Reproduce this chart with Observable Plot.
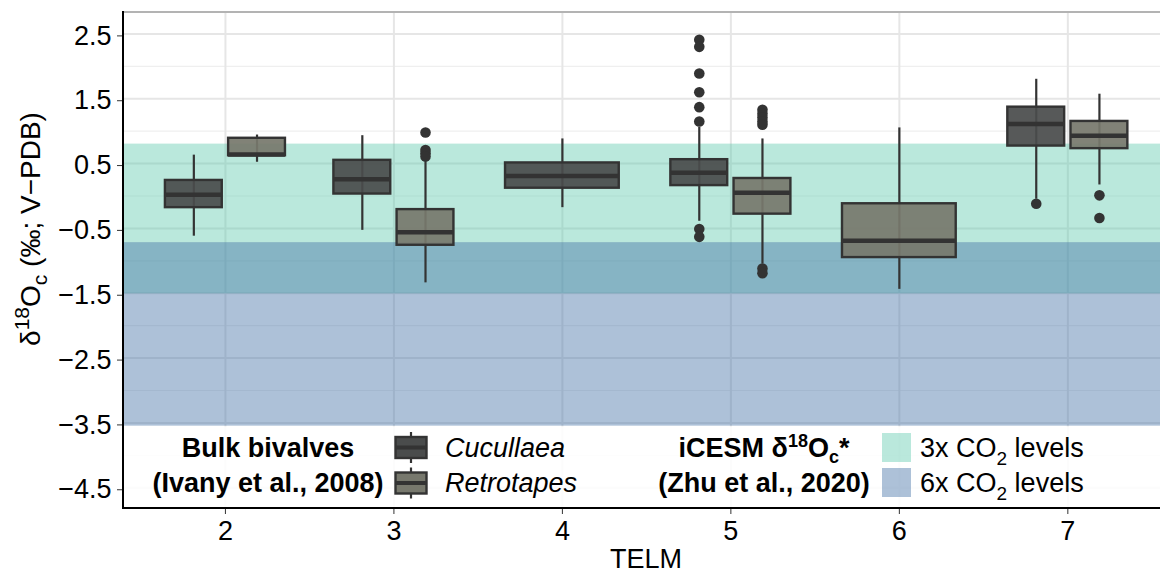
<!DOCTYPE html>
<html><head><meta charset="utf-8">
<script src="https://cdn.jsdelivr.net/npm/d3@7"></script>
<script src="https://cdn.jsdelivr.net/npm/@observablehq/plot@0.6"></script>
<style>
body{margin:0;background:#fff;}
svg{font-family:"Liberation Sans",Arial,sans-serif;}
</style>
</head><body><div id="chart"></div>
<script>
// ---- data ----
const telm        = [2, 2, 3, 3, 4, 5, 5, 6, 7, 7];
const species     = ["Cucullaea","Retrotapes","Cucullaea","Retrotapes","Cucullaea","Cucullaea","Retrotapes","Retrotapes","Cucullaea","Retrotapes"];
const whiskerLow  = [-0.62, 0.52, -0.53, -1.34, -0.18, -0.39, -1.05, -1.44, -0.05, 0.17];
const q1          = [-0.18, 0.62,  0.03, -0.76,  0.12,  0.16, -0.28, -0.95,  0.77, 0.73];
const median      = [ 0.02, 0.64,  0.26, -0.56,  0.31,  0.36,  0.05, -0.69,  1.11, 0.93];
const q3          = [ 0.24, 0.89,  0.55, -0.21,  0.51,  0.56,  0.27, -0.12,  1.37, 1.15];
const whiskerHigh = [ 0.63, 0.94,  0.93,  0.55,  0.88,  1.06,  0.88,  1.05,  1.80, 1.57];

const outlierTelm    = [3,3,3,3, 5,5,5,5,5,5,5,5, 5,5,5,5,5,5,5, 7, 7,7];
const outlierSpecies = ["Retrotapes","Retrotapes","Retrotapes","Retrotapes",
  "Cucullaea","Cucullaea","Cucullaea","Cucullaea","Cucullaea","Cucullaea","Cucullaea","Cucullaea",
  "Retrotapes","Retrotapes","Retrotapes","Retrotapes","Retrotapes","Retrotapes","Retrotapes",
  "Cucullaea","Retrotapes","Retrotapes"];
const outlierValue   = [0.98, 0.71, 0.66, 0.61,
  2.41, 2.30, 1.89, 1.60, 1.37, 1.15, -0.51, -0.63,
  1.33, 1.27, 1.21, 1.15, 1.10, -1.12, -1.19,
  -0.12, 0.01, -0.34];

const bandLabel  = ["3x CO2 levels", "6x CO2 levels"];
const bandTop    = [0.80, -0.72];
const bandBottom = [-1.51, -3.55];

const speciesNames = ["Cucullaea", "Retrotapes"];
const telmTicks  = [2, 3, 4, 5, 6, 7];
const majorTicks = [2.5, 1.5, 0.5, -0.5, -1.5, -2.5, -3.5, -4.5];
const minorTicks = [2.0, 1.0, 0.0, -1.0, -2.0, -3.0, -4.0];

// ---- styles ----
const speciesFill = {Cucullaea: "#4a4c4c", Retrotapes: "#77786d"};
const bandFill = ["rgb(83,198,168)", "rgb(67,113,165)"];
const bandAlpha = [0.4, 0.435];

// ---- derived tables ----
const boxes = telm.map((t, i) => ({telm: t, species: species[i], lo: whiskerLow[i], q1: q1[i],
  med: median[i], q3: q3[i], hi: whiskerHigh[i]}));
const dodgeW = 0.75, pad = 0.1;
boxes.forEach(b => {
  const group = boxes.filter(d => d.telm === b.telm);
  const n = group.length, idx = group.indexOf(b);
  const slot = dodgeW / n;
  b.cx = b.telm - dodgeW / 2 + slot * (idx + 0.5);
  b.hw = slot * (1 - pad) / 2;
});
const outliers = outlierValue.map((v, i) => {
  const b = boxes.find(d => d.telm === outlierTelm[i] && d.species === outlierSpecies[i]);
  return {cx: b.cx, v};
});
const bands = bandLabel.map((l, i) => ({label: l, top: bandTop[i], bottom: bandBottom[i], fill: bandFill[i], alpha: bandAlpha[i]}));

const FS = 27;
const chart = Plot.plot({
  width: 1160, height: 573,
  marginLeft: 123, marginRight: 0, marginTop: 12, marginBottom: 65,
  x: {domain: [1.395, 7.55]},
  y: {domain: [-4.82, 2.83]},
  style: {fontFamily: "Liberation Sans, Arial, sans-serif", fontSize: FS + "px", color: "#000", background: "#fff", overflow: "visible"},
  marks: [
    Plot.gridY(minorTicks, {stroke: "#efefef", strokeOpacity: 1, strokeWidth: 1.2}),
    Plot.gridY(majorTicks, {stroke: "#e6e6e6", strokeOpacity: 1, strokeWidth: 2}),
    Plot.gridX(telmTicks, {stroke: "#e6e6e6", strokeOpacity: 1, strokeWidth: 2}),
    Plot.rect(bands, {y1: "bottom", y2: "top", fill: "fill", fillOpacity: "alpha"}),
    Plot.ruleX(boxes, {x: "cx", y1: "lo", y2: "hi", stroke: "#333", strokeWidth: 2.2}),
    Plot.rect(boxes, {x1: d => d.cx - d.hw, x2: d => d.cx + d.hw, y1: "q1", y2: "q3",
      fill: d => speciesFill[d.species], fillOpacity: 0.93, stroke: "#333", strokeWidth: 2.4}),
    Plot.ruleY(boxes, {y: "med", x1: d => d.cx - d.hw, x2: d => d.cx + d.hw, stroke: "#333", strokeWidth: 4.5}),
    Plot.dot(outliers, {x: "cx", y: "v", r: 5.3, fill: "#333", stroke: "none"}),
    Plot.axisY(majorTicks, {tickSize: 6, tickPadding: 6, label: null, stroke: "#333", fontSize: FS, dy: 2}),
    Plot.axisX(telmTicks, {tickSize: 6, tickPadding: 6, label: null, stroke: "#333", fontSize: FS, tickFormat: d => String(d)}),
  ]
});
document.getElementById("chart").appendChild(chart);

// ---- overlays: legend, axis titles, frame ----
const xs = chart.scale("x"), ys = chart.scale("y");
const svg = d3.select(chart);
const X0 = 123, X1 = 1160, Y0 = ys.apply(2.83), Y1 = ys.apply(-4.82);
const ov = svg.append("g").attr("font-family", "Liberation Sans, Arial, sans-serif")
  .attr("fill", "#000").attr("text-anchor", "start");

// legend background
const legTop = ys.apply(-3.56);
ov.append("rect").attr("x", X0 + 1).attr("y", legTop).attr("width", X1 - X0).attr("height", Y1 - legTop)
  .attr("fill", "#fff").attr("fill-opacity", 0.85);

// frame lines
ov.append("line").attr("x1", X0).attr("x2", X1 + 2).attr("y1", Y0).attr("y2", Y0).attr("stroke", "#b3b3b3").attr("stroke-width", 2);
ov.append("line").attr("x1", X0).attr("x2", X0).attr("y1", Y0 - 1).attr("y2", Y1 + 1).attr("stroke", "#000").attr("stroke-width", 2);
ov.append("line").attr("x1", X0 - 1).attr("x2", X1 + 2).attr("y1", Y1).attr("y2", Y1).attr("stroke", "#000").attr("stroke-width", 2);

// legend 1: bivalves
const row = [447.5, 482.5];
const title1 = ov.append("text").attr("text-anchor", "middle").attr("font-weight", "bold").attr("font-size", FS);
title1.append("tspan").attr("x", 268).attr("y", row[0] + 9.5).text("Bulk bivalves");
title1.append("tspan").attr("x", 268).attr("y", row[1] + 9.5).text("(Ivany et al., 2008)");
speciesNames.forEach((s, i) => {
  const cy = row[i] + (i ? 0.5 : 0), kx = 411;
  ov.append("line").attr("x1", kx).attr("x2", kx).attr("y1", cy - 15.5).attr("y2", cy + 15.5).attr("stroke", "#333").attr("stroke-width", 2.2);
  ov.append("rect").attr("x", kx - 15.5).attr("y", cy - 10.5).attr("width", 31).attr("height", 21)
    .attr("fill", speciesFill[s]).attr("stroke", "#333").attr("stroke-width", 2.4);
  ov.append("line").attr("x1", kx - 15.5).attr("x2", kx + 15.5).attr("y1", cy).attr("y2", cy).attr("stroke", "#333").attr("stroke-width", 4);
  ov.append("text").attr("x", 445).attr("y", row[i] + 9.5).attr("text-anchor", "start")
    .attr("font-size", FS).attr("font-style", "italic").text(s);
});

// legend 2: model bands
const title2 = ov.append("text").attr("text-anchor", "middle").attr("font-weight", "bold").attr("font-size", FS)
  .attr("x", 764).attr("y", row[0] + 9.5);
title2.append("tspan").text("iCESM δ");
title2.append("tspan").attr("font-size", 18).attr("dy", -10).text("18");
title2.append("tspan").attr("dy", 10).text("O");
title2.append("tspan").attr("font-size", 18).attr("dy", 6).text("c");
title2.append("tspan").attr("dy", -6).text("*");
ov.append("text").attr("text-anchor", "middle").attr("font-weight", "bold").attr("font-size", FS)
  .attr("x", 764).attr("y", row[1] + 9.5).text("(Zhu et al., 2020)");
bands.forEach((b, i) => {
  const cy = row[i];
  ov.append("rect").attr("x", 882).attr("y", cy - 14.5).attr("width", 29).attr("height", 29)
    .attr("fill", b.fill).attr("fill-opacity", b.alpha);
  const t = ov.append("text").attr("x", 920).attr("y", cy + 9.5).attr("text-anchor", "start").attr("font-size", FS);
  const parts = b.label.match(/^(.*CO)(2)(.*)$/);
  t.append("tspan").text(parts[1]);
  t.append("tspan").attr("font-size", 19).attr("dy", 8).text(parts[2]);
  t.append("tspan").attr("dy", -8).text(parts[3]);
});

// axis titles
ov.append("text").attr("x", 646).attr("y", 568).attr("text-anchor", "middle").attr("font-size", FS).text("TELM");
const yt = ov.append("text").attr("transform", "translate(40,229) rotate(-90)").attr("text-anchor", "middle").attr("font-size", 28);
yt.append("tspan").text("δ");
yt.append("tspan").attr("font-size", 21).attr("dy", -11).text("18");
yt.append("tspan").attr("dy", 11).text("O");
yt.append("tspan").attr("font-size", 21).attr("dy", 7).text("c");
yt.append("tspan").attr("dy", -7).text(" (‰; V−PDB)");
</script>
</body></html>
